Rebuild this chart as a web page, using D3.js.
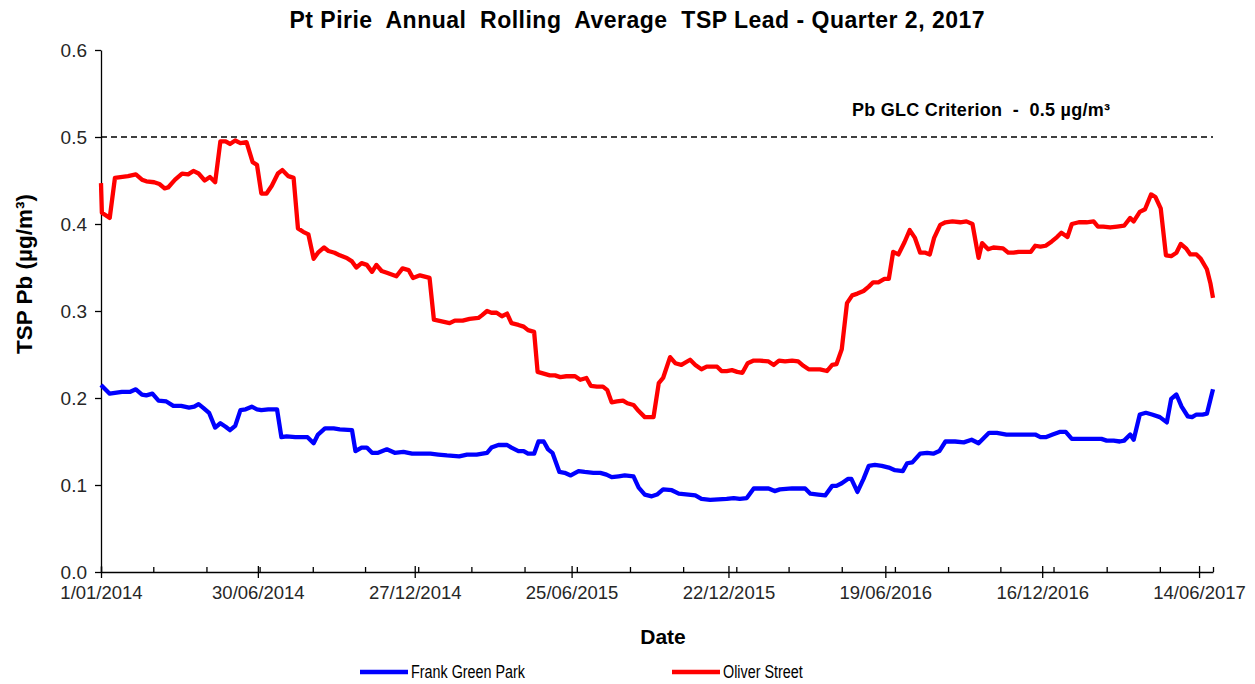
<!DOCTYPE html>
<html lang="en">
<head>
<meta charset="UTF-8">
<title>Pt Pirie Annual Rolling Average TSP Lead</title>
<script src="https://cdn.jsdelivr.net/npm/d3@7"></script>
<style>
	body { margin: 0; background: #fff; }
	svg text { font-family: "Liberation Sans", Arial, sans-serif; }
</style>
</head>
<body>
<script>
	// ---- data (days counted from 1/01/2014) ----
	var startDate = new Date(2014, 0, 1),
		endDate = new Date(2017, 5, 30);

	var frankDay = [0,10,24,33,40,47,52,59,66,75,83,92,101,107,112,117,124,131,137,143,
		148,154,160,166,173,179,184,192,202,207,213,223,237,244,249,257,267,274,288,292,
		299,305,311,318,328,337,347,357,378,387,397,411,420,431,443,448,456,466,471,479,
		485,490,497,502,508,513,518,526,532,539,548,555,565,573,580,586,594,601,611,617,
		624,632,638,645,655,663,674,682,689,699,718,726,733,741,749,766,773,779,793,808,
		814,823,831,839,844,850,857,861,868,875,881,888,896,904,911,920,925,931,940,948,
		955,962,969,980,990,999,1007,1013,1019,1028,1039,1072,1078,1084,1092,1100,1107,1114,1148,1154,
		1162,1169,1174,1181,1185,1192,1199,1206,1215,1223,1228,1234,1240,1247,1252,1257,1264,1269,1273,1276];
	var frankPb = [0.215,0.205,0.207,0.207,0.210,0.204,0.203,0.205,0.197,0.196,
		0.191,0.191,0.189,0.190,0.193,0.189,0.183,0.166,0.171,0.167,
		0.163,0.168,0.186,0.187,0.190,0.187,0.186,0.187,0.187,0.155,
		0.156,0.155,0.155,0.148,0.158,0.165,0.165,0.164,0.163,0.139,
		0.143,0.143,0.137,0.137,0.141,0.137,0.138,0.136,0.136,0.135,
		0.134,0.133,0.135,0.135,0.137,0.143,0.146,0.146,0.143,0.139,
		0.139,0.136,0.136,0.150,0.150,0.141,0.137,0.115,0.114,0.111,
		0.116,0.115,0.114,0.114,0.112,0.109,0.110,0.111,0.110,0.097,
		0.089,0.087,0.089,0.095,0.094,0.090,0.089,0.088,0.084,0.083,
		0.084,0.085,0.084,0.085,0.096,0.096,0.093,0.095,0.096,0.096,
		0.090,0.089,0.088,0.099,0.099,0.102,0.107,0.107,0.092,0.107,
		0.122,0.123,0.122,0.120,0.117,0.116,0.125,0.126,0.136,0.137,
		0.136,0.139,0.150,0.150,0.149,0.152,0.148,0.154,0.160,0.160,
		0.158,0.158,0.155,0.155,0.158,0.161,0.161,0.153,0.153,0.151,
		0.151,0.150,0.151,0.158,0.152,0.181,0.183,0.181,0.178,0.172,
		0.199,0.204,0.190,0.179,0.178,0.181,0.181,0.182,0.198,0.210];

	var oliverDay = [0,1,10,16,31,40,47,52,61,67,73,77,85,93,100,106,112,119,125,131,
		137,143,148,154,160,167,174,179,184,190,196,203,208,215,221,226,232,238,244,249,
		256,261,268,274,282,288,293,299,305,311,316,322,328,339,346,353,358,366,377,382,
		391,400,406,415,423,433,437,443,448,454,460,466,471,479,485,490,497,501,508,515,
		521,527,534,544,550,557,562,569,576,581,586,592,599,604,611,617,624,634,640,645,
		653,659,666,676,682,689,695,707,712,718,724,730,736,742,749,756,766,772,778,785,
		793,800,806,812,819,825,833,839,844,850,856,862,868,875,881,886,892,899,904,909,
		915,922,928,934,940,946,951,956,963,969,977,986,993,1000,1007,1011,1018,1024,1035,1041,
		1047,1053,1060,1067,1072,1078,1084,1091,1097,1102,1109,1114,1122,1131,1139,1144,1150,1158,1166,1174,
		1181,1185,1192,1198,1205,1210,1216,1222,1228,1234,1239,1245,1250,1257,1262,1269,1273,1276];
	var oliverPb = [0.447,0.413,0.407,0.453,0.455,0.457,0.451,0.449,0.448,0.446,
		0.441,0.442,0.451,0.458,0.457,0.461,0.458,0.450,0.454,0.448,
		0.495,0.495,0.492,0.496,0.493,0.494,0.471,0.468,0.435,0.435,
		0.444,0.458,0.462,0.455,0.453,0.395,0.391,0.388,0.360,0.367,
		0.373,0.369,0.367,0.364,0.361,0.357,0.350,0.355,0.353,0.345,
		0.353,0.346,0.344,0.340,0.349,0.347,0.338,0.341,0.338,0.290,
		0.288,0.286,0.289,0.289,0.291,0.292,0.295,0.300,0.298,0.298,
		0.294,0.297,0.286,0.284,0.282,0.278,0.276,0.230,0.228,0.226,
		0.226,0.224,0.225,0.225,0.221,0.223,0.214,0.213,0.213,0.209,
		0.195,0.196,0.197,0.194,0.192,0.185,0.178,0.178,0.217,0.223,
		0.247,0.240,0.238,0.244,0.238,0.233,0.236,0.236,0.231,0.231,
		0.232,0.230,0.229,0.240,0.243,0.243,0.242,0.238,0.243,0.242,
		0.243,0.242,0.237,0.233,0.233,0.233,0.231,0.238,0.239,0.256,
		0.309,0.318,0.320,0.323,0.328,0.333,0.333,0.337,0.337,0.368,
		0.365,0.379,0.393,0.384,0.367,0.367,0.365,0.384,0.399,0.402,
		0.403,0.402,0.403,0.400,0.361,0.378,0.371,0.373,0.372,0.367,
		0.367,0.368,0.368,0.368,0.375,0.374,0.375,0.380,0.385,0.390,
		0.385,0.400,0.402,0.402,0.403,0.397,0.397,0.396,0.397,0.398,
		0.407,0.403,0.414,0.417,0.434,0.431,0.418,0.364,0.363,0.367,
		0.377,0.372,0.365,0.365,0.360,0.348,0.332,0.315];

	var yTicks = [0, 0.1, 0.2, 0.3, 0.4, 0.5, 0.6];
	var majorTickDays = [0, 180, 360, 540, 720, 900, 1080, 1260];
	var minorTickCount = 21;
	var criterion = 0.5;

	var seriesNames = ['Frank Green Park', 'Oliver Street'];
	var seriesColors = ['#0000ff', '#ff0000'];

	var titleText = 'Pt Pirie  Annual  Rolling  Average  TSP Lead - Quarter 2, 2017';

	// ---- layout ----
	var margin = {top: 50, bottom: 112, left: 101, right: 42};
	var width = 1255 - margin.left - margin.right,
		height = 684 - margin.top - margin.bottom;

	var svg = d3.select('body').append('svg')
		.attr('width', 1255)
		.attr('height', 684);

	var g = svg.append('g')
		.attr('transform', 'translate(' + margin.left + ',' + margin.top + ')');

	function toDate(day) { return d3.timeDay.offset(startDate, day); }

	function rows(days, vals) {
		return days.map(function (d, i) { return {date: toDate(d), value: vals[i]}; });
	}
	var series = [rows(frankDay, frankPb), rows(oliverDay, oliverPb)];

	var x = d3.scaleTime().domain([startDate, endDate]).range([0, width]);
	var y = d3.scaleLinear().domain([0, 0.6]).range([height, 0]);

	//----Achsen----//
	var yAxis = g.append('g')
		.call(d3.axisLeft(y).tickValues(yTicks).tickFormat(d3.format('.1f'))
			.tickSizeInner(6).tickSizeOuter(0).tickPadding(8));
	yAxis.select('.domain').attr('stroke', '#000').attr('stroke-width', 1.3);
	yAxis.selectAll('.tick line').attr('stroke', '#000').attr('stroke-width', 1.3);
	yAxis.selectAll('.tick text').attr('fill', '#262626')
		.style('font-size', '19px');

	var fmt = d3.timeFormat('%-d/%m/%Y');
	var xAxis = g.append('g')
		.attr('transform', 'translate(0,' + height + ')')
		.call(d3.axisBottom(x).tickValues(majorTickDays.map(toDate)).tickFormat(fmt)
			.tickSizeInner(6).tickSizeOuter(0).tickPadding(8));
	xAxis.select('.domain').attr('stroke', '#000').attr('stroke-width', 1.3);
	xAxis.selectAll('.tick line').attr('stroke', '#000').attr('stroke-width', 1.3).attr('y1', -6);
	xAxis.selectAll('.tick text').attr('fill', '#262626')
		.style('font-size', '18.5px');

	var minorDays = d3.range(minorTickCount + 1).map(function (i) {
		return toDate(i * d3.timeDay.count(startDate, endDate) / minorTickCount);
	});
	var minorAxis = g.append('g')
		.attr('transform', 'translate(0,' + height + ')')
		.call(d3.axisBottom(x).tickValues(minorDays).tickFormat('').tickSize(-5).tickSizeOuter(0));
	minorAxis.select('.domain').remove();
	minorAxis.selectAll('.tick line').attr('stroke', '#000').attr('stroke-width', 1.3);

	// criterion line
	g.append('line')
		.attr('x1', 0).attr('x2', width)
		.attr('y1', y(criterion)).attr('y2', y(criterion))
		.attr('stroke', '#000')
		.attr('stroke-width', 1.6)
		.attr('stroke-dasharray', '6,4');

	g.append('text')
		.attr('x', 751).attr('y', 66)
		.attr('textLength', 258).attr('lengthAdjust', 'spacing')
		.style('font-size', '18px').style('font-weight', 'bold')
		.style('white-space', 'pre')
		.text('Pb GLC Criterion  -  0.5 \u00b5g/m\u00b3');

	// series lines
	var line = d3.line()
		.x(function (d) { return x(d.date); })
		.y(function (d) { return y(d.value); });

	g.selectAll('.series')
		.data(series)
		.enter().append('path')
		.attr('class', 'series')
		.attr('d', line)
		.attr('fill', 'none')
		.attr('stroke', function (d, i) { return seriesColors[i]; })
		.attr('stroke-width', 4.3)
		.attr('stroke-linejoin', 'round');

	// titles
	svg.append('text')
		.attr('x', 637).attr('y', 28)
		.attr('text-anchor', 'middle')
		.attr('textLength', 695).attr('lengthAdjust', 'spacing')
		.style('font-size', '23px').style('font-weight', 'bold')
		.style('white-space', 'pre')
		.text(titleText);

	svg.append('text')
		.attr('transform', 'translate(32,274) rotate(-90)')
		.attr('text-anchor', 'middle')
		.style('font-size', '22.5px').style('font-weight', 'bold')
		.text('TSP Pb (\u00b5g/m\u00b3)');

	svg.append('text')
		.attr('x', 663).attr('y', 644)
		.attr('text-anchor', 'middle')
		.style('font-size', '21px').style('font-weight', 'bold')
		.text('Date');

	// legend
	var legendX = [360, 672];
	var legend = svg.selectAll('.legend')
		.data(seriesNames)
		.enter().append('g')
		.attr('class', 'legend')
		.attr('transform', function (d, i) { return 'translate(' + legendX[i] + ',672)'; });
	legend.append('line')
		.attr('x1', 0).attr('x2', 48)
		.attr('stroke', function (d, i) { return seriesColors[i]; })
		.attr('stroke-width', 4.3);
	legend.append('text')
		.attr('x', 51).attr('y', 6)
		.style('font-size', '17.5px')
		.text(function (d) { return d; })
		.each(function () {
			var w = this.getComputedTextLength();
			d3.select(this).attr('textLength', w * 0.82).attr('lengthAdjust', 'spacingAndGlyphs');
		});
</script>
</body>
</html>
